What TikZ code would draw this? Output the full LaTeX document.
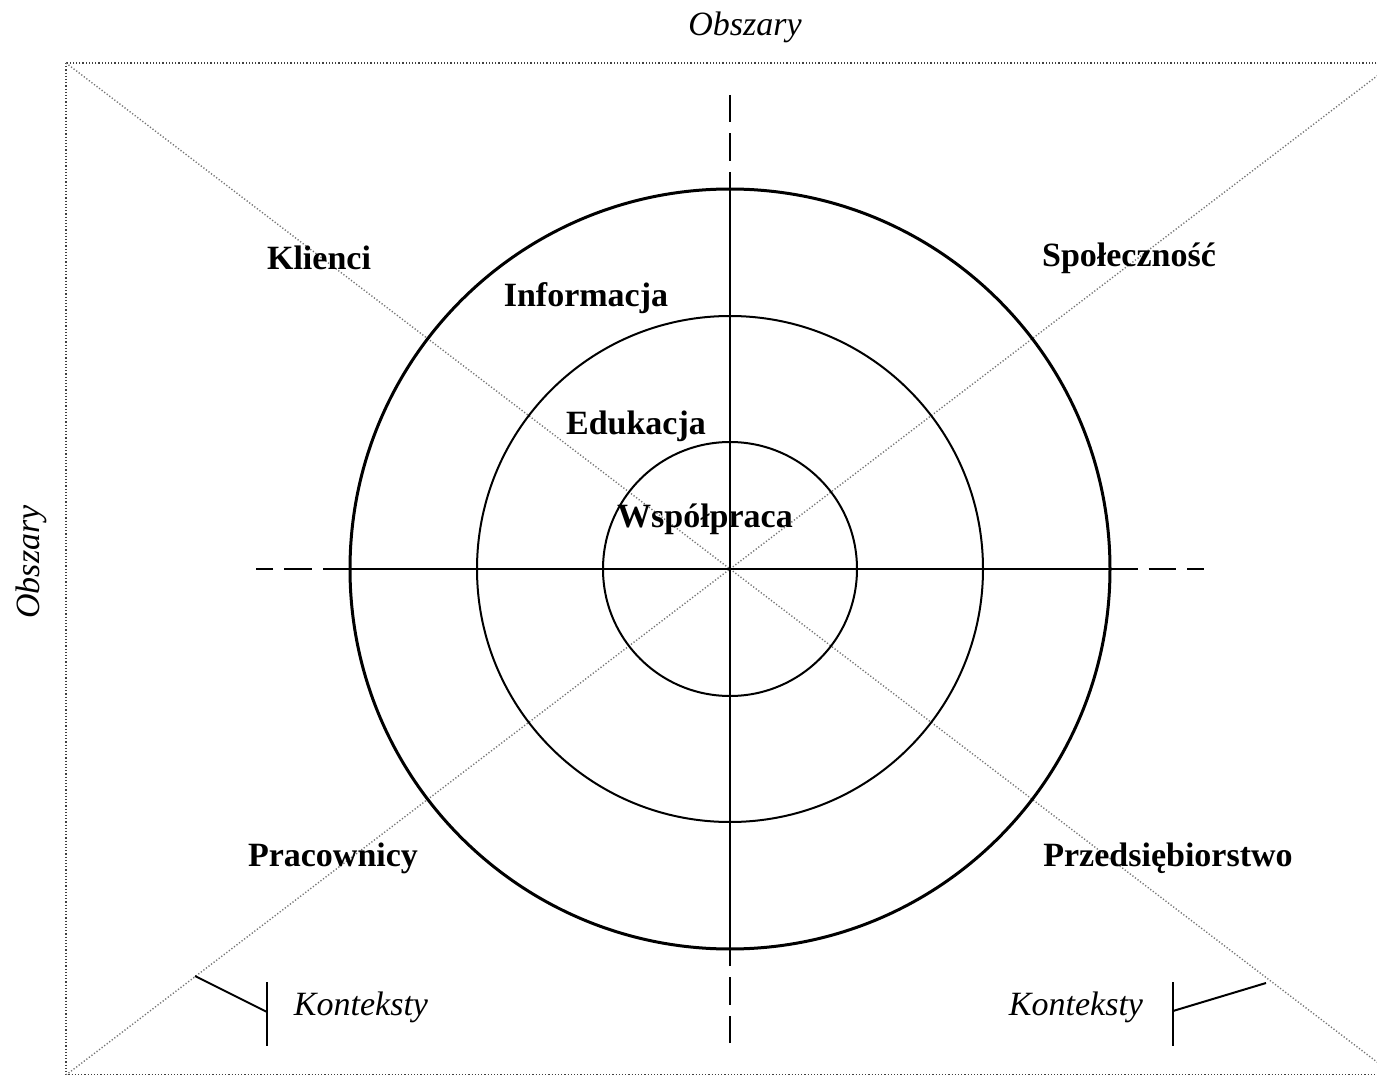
\documentclass[tikz,border=0pt]{standalone}
\usepackage{fontspec}
\setmainfont{Liberation Serif}
\begin{document}
\begin{tikzpicture}[x=0.5pt,y=-0.5pt,
  frame/.style={draw=black!75,line width=0.8pt,dash pattern=on 0.6pt off 1.0pt},
  diag/.style={draw=black!55,line width=0.7pt,dash pattern=on 0.6pt off 1.0pt},
  ring/.style={draw,line width=1.0pt},
  outerring/.style={draw,line width=1.5pt},
  axis/.style={draw,line width=1.15pt},
  vaxis/.style={draw,line width=1.4pt},
  axisdash/.style={draw,line width=1.2pt,dash pattern=on 13.75pt off 5.5pt},
  callout/.style={draw,line width=1.0pt},
  area/.style={font=\fontsize{17}{20}\selectfont\bfseries,inner sep=0pt},
  lab/.style={font=\fontsize{17}{20}\selectfont\itshape,inner sep=0pt}]
\useasboundingbox (0,0) rectangle (1377,1075);
\clip (0,0) rectangle (1377,1075);

% outer frame and its diagonals
\coordinate (TL) at (66,63);
\coordinate (TR) at (1394,63);
\coordinate (BL) at (66,1075);
\coordinate (BR) at (1394,1075);
\coordinate (O) at (730,569);
\draw[frame] (TL) rectangle (BR);
\draw[diag] (TL) -- (BR);
\draw[diag] (BL) -- (TR);

% concentric rings
\draw[ring] (O) circle[radius=127];
\draw[ring] (O) circle[radius=253];
\draw[outerring] (O) circle[radius=380];

% axes: solid inside the outer ring, dashed beyond it
\coordinate (N) at (730,189);
\coordinate (S) at (730,949);
\coordinate (W) at (350,569);
\coordinate (E) at (1110,569);
\coordinate (Nend) at (730,95);
\coordinate (Send) at (730,1043);
\coordinate (Wend) at (256,569);
\coordinate (Eend) at (1204,569);
\draw[vaxis] (N) -- (S);
\draw[axis] (W) -- (E);
\draw[axisdash] (Nend) -- (N);
\draw[axisdash] (Send) -- (S);
\draw[axisdash] (W) -- (Wend);
\draw[axisdash] (E) -- (Eend);

% axis titles
\node[lab] (otop) at (745,27) {Obszary};
\node[lab,rotate=90] (oleft) at (31,562) {Obszary};

% areas and levels
\node[area] (klienci) at (319,258) {Klienci};
\node[area] (spol) at (1129,258) {Społeczność};
\node[area] (info) at (586,298) {Informacja};
\node[area] (edu) at (636,426) {Edukacja};
\node[area] (wsp) at (705,519) {Współpraca};
\node[area] (prac) at (333,858) {Pracownicy};
\node[area] (przed) at (1168,858) {Przedsiębiorstwo};

% context callouts
\node[lab] (kl) at (361,1007) {Konteksty};
\node[lab] (kr) at (1076,1007) {Konteksty};
\coordinate (bl1) at (267,982);
\coordinate (bl2) at (267,1046);
\coordinate (blm) at (267,1012);
\coordinate (bld) at (195,976);
\coordinate (br1) at (1173,982);
\coordinate (br2) at (1173,1046);
\coordinate (brm) at (1173,1011);
\coordinate (brd) at (1266,983);
\draw[callout] (bl1) -- (bl2);
\draw[callout] (blm) -- (bld);
\draw[callout] (br1) -- (br2);
\draw[callout] (brm) -- (brd);
\end{tikzpicture}
\end{document}
